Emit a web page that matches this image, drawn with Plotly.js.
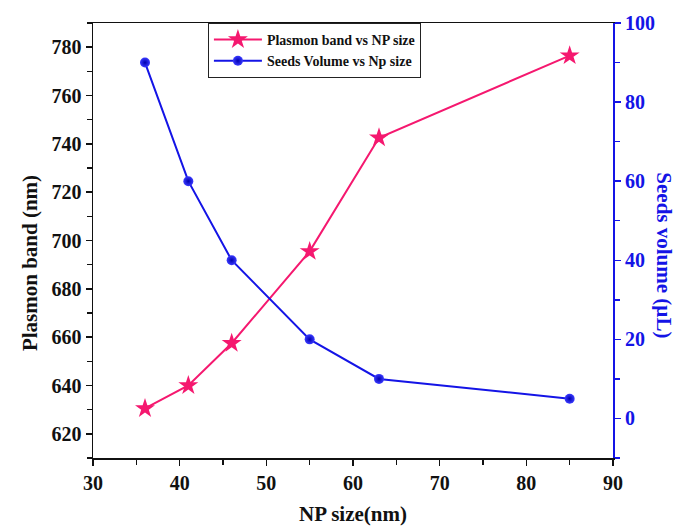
<!DOCTYPE html>
<html>
<head>
<meta charset="utf-8">
<script src="https://cdn.plot.ly/plotly-3.0.1.min.js"></script>
<style>
  html, body { margin: 0; padding: 0; background: #fff; }
  #chart { width: 678px; height: 531px; }
</style>
</head>
<body>
<div id="chart"></div>
<script>
// Nanoparticle size (nm)
const npSize = [36, 41, 46, 55, 63, 85];
// Plasmon band position (nm)
const plasmonBand = [630.5, 640, 657.5, 695.5, 742.5, 776.5];
// Seeds volume (µL)
const seedsVolume = [90, 60, 40, 20, 10, 5];

const serif = 'Liberation Serif, Times New Roman, serif';
const pink = '#f5186f';
const blue = '#1414e6';

const traces = [
  {
    x: npSize, y: plasmonBand, yaxis: 'y',
    type: 'scatter', mode: 'lines+markers',
    name: 'Plasmon band vs NP size',
    line: { color: pink, width: 2 },
    marker: { symbol: 'star', size: 15, color: pink }
  },
  {
    x: npSize, y: seedsVolume, yaxis: 'y2',
    type: 'scatter', mode: 'lines+markers',
    name: 'Seeds Volume vs Np size',
    line: { color: blue, width: 2 },
    marker: { symbol: 'circle', size: 10, color: '#3a3aff',
              gradient: { type: 'radial', color: '#0000b0' } }
  }
];

const tickFont = { family: serif, size: 20, color: '#111', weight: 'bold' };
const titleFont = { family: serif, size: 21, color: '#111', weight: 'bold' };

const layout = {
  width: 678, height: 531,
  margin: { l: 93, r: 65, t: 23, b: 73 },
  paper_bgcolor: '#fff', plot_bgcolor: '#fff',
  showlegend: true,
  legend: {
    x: 0.221, y: 1, xanchor: 'left', yanchor: 'top',
    bordercolor: '#222', borderwidth: 1, bgcolor: '#fff',
    font: { family: serif, size: 14, color: '#111', weight: 'bold' },
    itemwidth: 48, tracegroupgap: 0
  },
  xaxis: {
    range: [30, 90], dtick: 10, tick0: 30,
    showgrid: false, zeroline: false,
    showline: true, linecolor: '#111', linewidth: 1.5, mirror: true,
    ticks: 'outside', ticklen: 6, tickwidth: 1.5, tickcolor: '#111',
    minor: { dtick: 5, ticks: 'outside', ticklen: 5, tickwidth: 1.5, tickcolor: '#111', showgrid: false },
    tickfont: tickFont,
    title: { text: 'NP size(nm)', font: titleFont, standoff: 14 }
  },
  yaxis: {
    range: [610, 790], dtick: 20, tick0: 620,
    showgrid: false, zeroline: false,
    showline: true, linecolor: '#111', linewidth: 1.5,
    ticks: 'outside', ticklen: 6, tickwidth: 1.5, tickcolor: '#111',
    minor: { dtick: 10, ticks: 'outside', ticklen: 5, tickwidth: 1.5, tickcolor: '#111', showgrid: false },
    tickfont: tickFont
  },
  yaxis2: {
    overlaying: 'y', side: 'right',
    range: [-10, 100], dtick: 20, tick0: 0,
    showgrid: false, zeroline: false,
    showline: true, linecolor: blue, linewidth: 2,
    ticks: 'outside', ticklen: 6, tickwidth: 1.5, tickcolor: blue,
    minor: { dtick: 10, ticks: 'outside', ticklen: 5, tickwidth: 1.5, tickcolor: blue, showgrid: false },
    tickfont: Object.assign({}, tickFont, { color: blue })
  },
  annotations: [
    {
      text: 'Plasmon band (nm)', xref: 'paper', yref: 'paper',
      x: -0.122, y: 0.447, xanchor: 'center', yanchor: 'middle',
      textangle: -90, showarrow: false, font: titleFont
    },
    {
      text: 'Seeds volume (µL)', xref: 'paper', yref: 'paper',
      x: 1.098, y: 0.466, xanchor: 'center', yanchor: 'middle',
      textangle: 90, showarrow: false,
      font: Object.assign({}, titleFont, { color: blue })
    }
  ]
};

Plotly.newPlot('chart', traces, layout, { displayModeBar: false, staticPlot: true });
</script>
</body>
</html>
